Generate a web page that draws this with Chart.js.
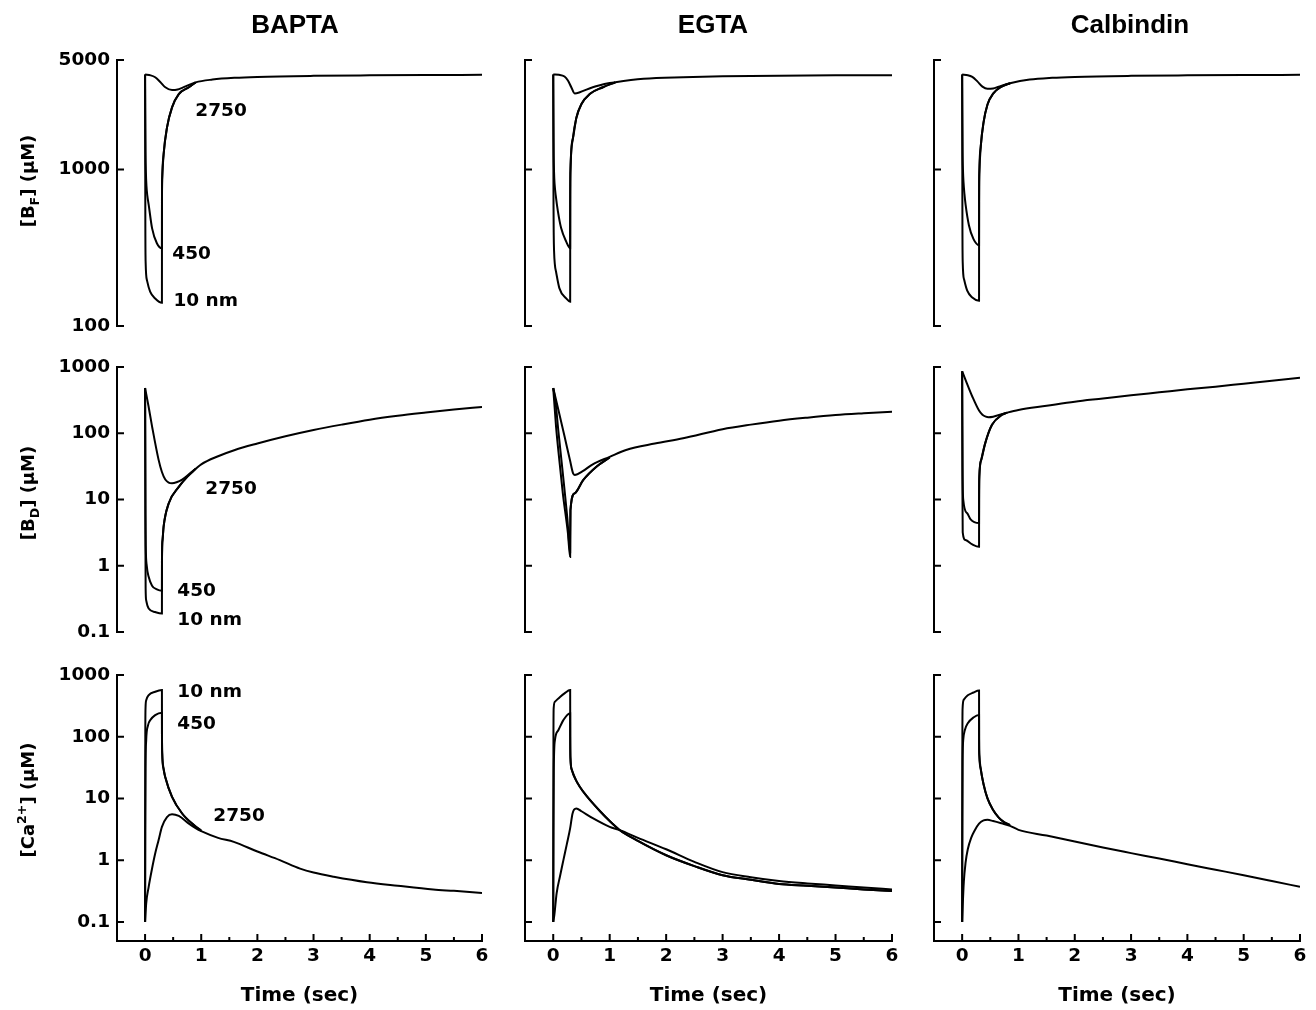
<!DOCTYPE html>
<html><head><meta charset="utf-8">
<script src="https://cdn.jsdelivr.net/npm/chart.js@4"></script>
<style>
html,body{margin:0;padding:0;background:#fff;}
#wrap{position:relative;width:1316px;height:1010px;overflow:hidden;background:#fff;}
#wrap canvas{position:absolute;}
</style></head><body><div id="wrap"></div>
<script>
// ---------- axes / labels ----------
const xTicks = [0, 1, 2, 3, 4, 5, 6];
const xMinorTicks = [0.5, 1.5, 2.5, 3.5, 4.5, 5.5];
const bfTicks = [100, 1000, 5000];
const bdTicks = [0.1, 1, 10, 100, 1000];
const caTicks = [0.1, 1, 10, 100, 1000];
const bufferNames = ['BAPTA', 'EGTA', 'Calbindin'];
const distanceLabels = ['10 nm', '450', '2750'];

// ---------- BAPTA ([t sec, value uM]) ----------
const baptaBF10 = [[0,4040],[0.002,1500],[0.005,420],[0.01,255],[0.035,195],[0.09,166],[0.18,150],[0.3,141]];
const baptaBF450 = [[0,4040],[0.003,2400],[0.008,1300],[0.015,950],[0.025,780],[0.04,680],[0.064,596],[0.124,422],[0.21,338],[0.3,314]];
const baptaBFAfter = [[0.301,620],[0.305,880],[0.33,1250],[0.39,1850],[0.48,2490],[0.6,3030],[0.78,3350],[0.9,3600]];
const baptaBF2750 = [[0,4040],[0.1,3990],[0.18,3880],[0.27,3620],[0.36,3350],[0.48,3215],[0.58,3240],[0.66,3320],[0.9,3600],[1.2,3750],[1.6,3850],[2,3900],[3,3960],[4,3990],[5,4010],[6,4020]];

const baptaBD10 = [[0,481],[0.003,60],[0.006,3],[0.01,0.45],[0.02,0.3],[0.064,0.226],[0.18,0.2],[0.3,0.19]];
const baptaBD450 = [[0,481],[0.003,80],[0.007,6],[0.012,2],[0.03,1.0],[0.064,0.68],[0.124,0.5],[0.21,0.44],[0.3,0.42]];
const baptaBDAfter = [[0.301,1.2],[0.31,2.4],[0.33,3.9],[0.42,8.7],[0.6,15.5],[0.75,22],[0.9,29]];
const baptaBD2750 = [[0,481],[0.06,260],[0.125,126],[0.24,40],[0.3,26],[0.36,20],[0.42,18],[0.48,17.6],[0.56,18.2],[0.66,20],[0.78,24],[0.9,29],[1.0,34],[1.3,45],[1.6,56],[2.0,70],[2.5,90],[3.0,112],[3.5,135],[4.0,160],[4.5,183],[5.0,205],[5.5,228],[6.0,250]];

const baptaCa10 = [[0,0.1],[0.002,5],[0.004,100],[0.008,290],[0.02,390],[0.065,472],[0.18,536],[0.3,570]];
const baptaCa450 = [[0,0.1],[0.003,3],[0.008,30],[0.02,88],[0.05,150],[0.094,186],[0.18,224],[0.3,245]];
const baptaCaAfter = [[0.301,110],[0.305,54],[0.33,30],[0.36,22],[0.48,10.6],[0.66,5.7],[0.87,3.7],[1.0,3.0]];
const baptaCa2750 = [[0,0.1],[0.02,0.2],[0.064,0.37],[0.12,0.7],[0.18,1.28],[0.24,2.1],[0.3,3.47],[0.39,5.0],[0.48,5.55],[0.6,5.2],[0.78,3.9],[0.9,3.3],[1.0,2.95],[1.3,2.3],[1.58,1.98],[2.0,1.38],[2.4,1.0],[2.76,0.73],[3.0,0.63],[3.36,0.54],[3.95,0.44],[4.5,0.385],[5.13,0.335],[5.5,0.318],[6.0,0.295]];

// ---------- EGTA ----------
const egtaBF10 = [[0,4040],[0.002,1500],[0.005,600],[0.009,380],[0.015,300],[0.03,245],[0.05,222],[0.11,174],[0.23,150],[0.3,143]];
const egtaBF450 = [[0,4040],[0.003,2500],[0.008,1300],[0.015,950],[0.025,800],[0.045,680],[0.083,540],[0.14,422],[0.23,346],[0.3,314]];
const egtaBFAfter = [[0.301,600],[0.305,980],[0.35,1590],[0.41,2140],[0.5,2620],[0.645,3030],[0.88,3350],[1.1,3600]];
const egtaBF2750 = [[0,4040],[0.1,4020],[0.2,3920],[0.26,3700],[0.32,3350],[0.38,3060],[0.47,3110],[0.7,3350],[1.0,3560],[1.1,3610],[1.6,3790],[2.3,3880],[3,3930],[4,3970],[5,3990],[6,4000]];

const egtaBD10 = [[0,481],[0.05,126],[0.11,38],[0.17,12.4],[0.26,3.1],[0.3,1.35]];
const egtaBD450 = [[0,481],[0.04,300],[0.09,110],[0.15,36],[0.2,14],[0.25,5.2],[0.3,1.6]];
const egtaBDAfter = [[0.301,2.5],[0.305,6.9],[0.38,12.4],[0.53,19.6],[0.77,31.5],[1.0,43]];
const egtaBD2750 = [[0,481],[0.1,210],[0.2,90],[0.3,38],[0.35,25],[0.38,23.5],[0.53,27],[0.7,34],[1.0,44],[1.29,56],[1.8,70],[2.3,84],[3.0,115],[3.5,135],[4.0,155],[4.5,172],[5.0,188],[5.5,200],[6.0,211]];

const egtaCa10 = [[0,0.1],[0.002,5],[0.004,100],[0.008,290],[0.03,370],[0.12,442],[0.2,505],[0.3,570]];
const egtaCa450 = [[0,0.1],[0.004,3],[0.01,30],[0.03,88],[0.09,127],[0.18,186],[0.3,240]];
const egtaCaAfter = [[0.301,100],[0.305,45],[0.33,29],[0.4,20],[0.47,15.5],[0.59,11],[0.83,6.2],[1.0,4.3],[1.18,3.06],[1.5,2.05],[2.0,1.2],[2.5,0.8],[3.0,0.57],[3.5,0.48],[4.0,0.41],[4.5,0.385],[5.0,0.36],[5.5,0.335],[6.0,0.316]];
const egtaCa2750 = [[0,0.1],[0.02,0.13],[0.06,0.29],[0.12,0.55],[0.18,1.0],[0.24,1.8],[0.3,3.3],[0.34,5.6],[0.37,6.6],[0.41,6.9],[0.5,6.2],[0.7,4.8],[1.0,3.47],[1.18,3.06],[1.5,2.3],[2.0,1.5],[2.5,0.94],[3.0,0.64],[3.5,0.53],[4.0,0.46],[4.5,0.42],[5.0,0.39],[5.5,0.36],[6.0,0.335]];

// ---------- Calbindin ----------
const calbBF10 = [[0,4040],[0.002,1500],[0.005,420],[0.01,255],[0.035,198],[0.09,168],[0.18,152],[0.3,145]];
const calbBF450 = [[0,4040],[0.003,2400],[0.008,1300],[0.015,980],[0.025,820],[0.04,700],[0.06,600],[0.12,440],[0.2,360],[0.3,328]];
const calbBFAfter = [[0.301,620],[0.305,950],[0.33,1400],[0.38,2000],[0.45,2600],[0.55,3050],[0.7,3380],[0.85,3550]];
const calbBF2750 = [[0,4040],[0.1,4000],[0.18,3900],[0.27,3650],[0.36,3380],[0.45,3270],[0.55,3290],[0.65,3380],[0.85,3550],[1.2,3750],[1.6,3850],[2,3900],[3,3960],[4,3990],[5,4010],[6,4020]];

const calbBD10 = [[0,860],[0.003,100],[0.006,10],[0.01,3.2],[0.06,2.44],[0.18,2.1],[0.3,1.93]];
const calbBD450 = [[0,860],[0.003,150],[0.007,30],[0.02,9.8],[0.09,6.2],[0.15,5.0],[0.3,4.4]];
const calbBDAfter = [[0.301,10],[0.305,22],[0.34,40],[0.41,71],[0.53,134],[0.71,190],[0.8,205]];
const calbBD2750 = [[0,860],[0.06,640],[0.18,359],[0.3,220],[0.36,190],[0.42,178],[0.47,175],[0.55,178],[0.71,195],[0.8,205],[1.0,225],[1.5,260],[2.0,300],[2.5,335],[3.0,375],[3.5,415],[4.0,460],[4.5,505],[5.0,560],[5.5,620],[6.0,690]];

const calbCa10 = [[0,0.1],[0.002,5],[0.004,100],[0.008,290],[0.03,400],[0.1,470],[0.2,520],[0.3,560]];
const calbCa450 = [[0,0.1],[0.003,3],[0.008,40],[0.02,90],[0.05,130],[0.1,165],[0.2,205],[0.3,225]];
const calbCaAfter = [[0.301,90],[0.305,50],[0.33,30],[0.38,17],[0.45,10],[0.55,6.5],[0.65,4.9],[0.75,4.1],[0.85,3.7]];
const calbCa2750 = [[0,0.1],[0.01,0.18],[0.03,0.45],[0.06,0.9],[0.1,1.5],[0.16,2.3],[0.22,3.0],[0.3,3.9],[0.38,4.4],[0.45,4.5],[0.55,4.3],[0.7,3.95],[0.85,3.6],[1.0,3.1],[1.5,2.5],[2.0,2.0],[2.5,1.6],[3.0,1.3],[3.5,1.06],[4.0,0.86],[4.5,0.7],[5.0,0.57],[5.5,0.46],[6.0,0.37]];

// curve label anchors (BAPTA column), [t, value] in order 10 nm, 450, 2750
const labelPosBF = [[0.504,145],[0.486,286],[0.895,2370]];
const labelPosBD = [[0.575,0.153],[0.575,0.42],[1.073,14.2]];
const labelPosCa = [[0.575,519],[0.575,157],[1.215,5.07]];

// ---------- layout ----------
const FONT = '"DejaVu Sans"';
const rowCfg = [
  {ticks: bfTicks, min: 100, max: 5000, top: 0, h: 340, padT: 60, padB: 14, title: [['[B',0],['F',1],['] (\u03bcM)',0]], titleY: 181, labels: labelPosBF},
  {ticks: bdTicks, min: 0.1, max: 1000, top: 345, h: 300, padT: 22, padB: 13, title: [['[B',0],['D',1],['] (\u03bcM)',0]], titleY: 493, labels: labelPosBD},
  {ticks: caTicks, min: 0.049, max: 1000, top: 650, h: 360, padT: 25, padB: 0, title: [['[Ca',0],['2+',-1],['] (\u03bcM)',0]], titleY: 800, labels: labelPosCa}
];
const colCfg = [
  {left: 0, w: 495, yW: 117, padR: 13, titleX: 295},
  {left: 505, w: 400, yW: 20, padR: 13, titleX: 713},
  {left: 914, w: 400, yW: 20, padR: 14, titleX: 1130}
];
const panelData = [
  [[baptaBF10, baptaBF450, baptaBFAfter, baptaBF2750], [egtaBF10, egtaBF450, egtaBFAfter, egtaBF2750], [calbBF10, calbBF450, calbBFAfter, calbBF2750]],
  [[baptaBD10, baptaBD450, baptaBDAfter, baptaBD2750], [egtaBD10, egtaBD450, egtaBDAfter, egtaBD2750], [calbBD10, calbBD450, calbBDAfter, calbBD2750]],
  [[baptaCa10, baptaCa450, baptaCaAfter, baptaCa2750], [egtaCa10, egtaCa450, egtaCaAfter, egtaCa2750], [calbCa10, calbCa450, calbCaAfter, calbCa2750]]
];

function toXY(arr) { return arr.map(p => ({x: p[0], y: p[1]})); }

function drawRotTitle(ctx, parts, cx, cy) {
  const base = 18;
  ctx.save();
  ctx.translate(cx, cy);
  ctx.rotate(-Math.PI / 2);
  let total = 0;
  const items = parts.map(([txt, kind]) => {
    const size = kind ? base * 0.7 : base;
    ctx.font = `bold ${size}px ${FONT}`;
    const w = ctx.measureText(txt).width;
    total += w;
    return {txt, kind, size, w};
  });
  let x = -total / 2;
  ctx.textAlign = 'left';
  ctx.textBaseline = 'alphabetic';
  ctx.fillStyle = '#000';
  items.forEach(it => {
    ctx.font = `bold ${it.size}px ${FONT}`;
    const dy = it.kind === 1 ? base * 0.3 : (it.kind === -1 ? -base * 0.42 : 0);
    ctx.fillText(it.txt, x, dy);
    x += it.w;
  });
  ctx.restore();
}

const wrap = document.getElementById('wrap');
for (let r = 0; r < 3; r++) {
  for (let c = 0; c < 3; c++) {
    const row = rowCfg[r], col = colCfg[c];
    const cv = document.createElement('canvas');
    cv.width = col.w; cv.height = row.h;
    cv.style.left = col.left + 'px'; cv.style.top = row.top + 'px';
    wrap.appendChild(cv);
    const [d10, d450, dAfter, d2750] = panelData[r][c];
    const isBottom = r === 2;
    const decor = {
      id: 'decor' + r + c,
      afterDraw(chart) {
        const ctx = chart.ctx, a = chart.chartArea, xs = chart.scales.x, ys = chart.scales.y;
        ctx.save();
        ctx.strokeStyle = '#000';
        ctx.lineWidth = 2;
        ctx.beginPath();
        ys.ticks.forEach(t => {
          const py = ys.getPixelForValue(t.value);
          ctx.moveTo(a.left, py); ctx.lineTo(a.left + 7, py);
        });
        if (isBottom) {
          xTicks.forEach(v => {
            const px = xs.getPixelForValue(v);
            ctx.moveTo(px, a.bottom); ctx.lineTo(px, a.bottom - 7);
          });
          xMinorTicks.forEach(v => {
            const px = xs.getPixelForValue(v);
            ctx.moveTo(px, a.bottom); ctx.lineTo(px, a.bottom - 4);
          });
        }
        ctx.stroke();
        ctx.fillStyle = '#000';
        if (r === 0) {
          ctx.font = 'bold 26px "Liberation Sans"';
          ctx.textAlign = 'center';
          ctx.textBaseline = 'middle';
          ctx.fillText(bufferNames[c], col.titleX - col.left, 26 - row.top);
        }
        if (c === 0) {
          drawRotTitle(ctx, row.title, 34, row.titleY - row.top);
          ctx.font = `bold 18.5px ${FONT}`;
          ctx.textAlign = 'left';
          ctx.textBaseline = 'middle';
          row.labels.forEach((p, i) => {
            ctx.fillText(distanceLabels[i], xs.getPixelForValue(p[0]), ys.getPixelForValue(p[1]));
          });
        }
        ctx.restore();
      }
    };
    const lineStyle = {borderColor: '#000', borderWidth: 2, pointRadius: 0, fill: false, cubicInterpolationMode: 'monotone'};
    new Chart(cv, {
      type: 'line',
      data: {
        datasets: [
          Object.assign({label: distanceLabels[2], data: toXY(d2750)}, lineStyle),
          Object.assign({label: distanceLabels[1], data: toXY(d450.concat(dAfter))}, lineStyle),
          Object.assign({label: distanceLabels[0], data: toXY(d10.concat(dAfter))}, lineStyle)
        ]
      },
      options: {
        responsive: false,
        animation: false,
        events: [],
        layout: {padding: {left: 0, right: col.padR, top: row.padT, bottom: row.padB}},
        plugins: {legend: {display: false}, tooltip: {enabled: false}, title: {display: false}},
        scales: {
          x: {
            type: 'linear', min: -0.5, max: 6, display: isBottom,
            afterBuildTicks: s => { s.ticks = xTicks.map(v => ({value: v})); },
            afterFit: s => { s.height = isBottom ? 69 : 0; s.paddingLeft = 0; s.paddingRight = 0; },
            grid: {display: false, drawTicks: false},
            border: {display: true, color: '#000', width: 2},
            ticks: {color: '#000', padding: 4, font: {family: 'DejaVu Sans', weight: 'bold', size: 18.5}, maxRotation: 0, autoSkip: false},
            title: {display: true, text: 'Time (sec)', color: '#000', font: {family: 'DejaVu Sans', weight: 'bold', size: 20}, padding: {top: 0, bottom: 2}}
          },
          y: {
            type: 'logarithmic', min: row.min, max: row.max,
            afterBuildTicks: s => { s.ticks = row.ticks.map(v => ({value: v})); },
            afterFit: s => { s.width = col.yW; s.paddingTop = 0; s.paddingBottom = 0; },
            grid: {display: false, drawTicks: false},
            border: {display: true, color: '#000', width: 2},
            ticks: {display: c === 0, color: '#000', padding: 7, autoSkip: false, callback: v => String(v), font: {family: 'DejaVu Sans', weight: 'bold', size: 18.5}}
          }
        }
      },
      plugins: [decor]
    });
  }
}
</script></body></html>
